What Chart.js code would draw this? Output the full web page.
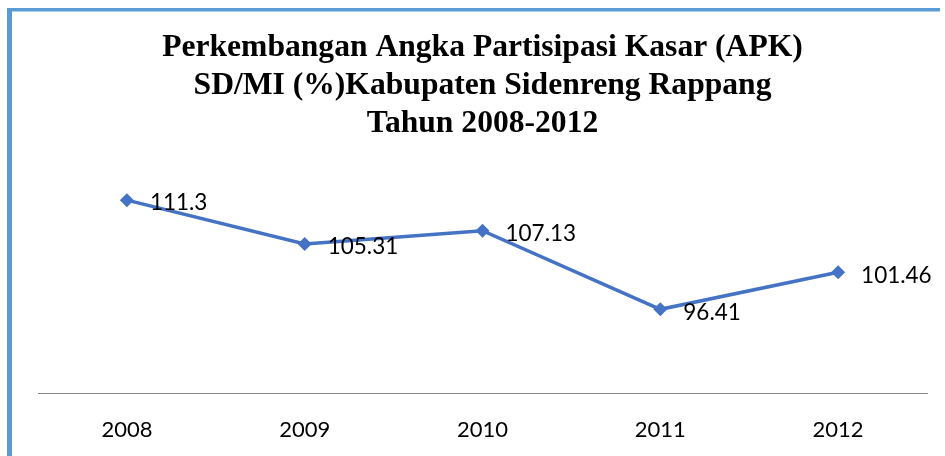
<!DOCTYPE html>
<html>
<head>
<meta charset="utf-8">
<script src="https://cdn.jsdelivr.net/npm/chart.js@4.4.1/dist/chart.umd.min.js"></script>
<style>
  html, body { margin: 0; padding: 0; background: #fff; overflow: hidden; }
  #chartApk { display: block; }
</style>
</head>
<body>
<canvas id="chartApk" width="945" height="456"></canvas>
<script>
// ---------- DATA ----------
const tahun = ["2008", "2009", "2010", "2011", "2012"];
const nilaiApk = [111.3, 105.31, 107.13, 96.41, 101.46];
const labelApk = ["111.3", "105.31", "107.13", "96.41", "101.46"];
const judul = [
  "Perkembangan Angka Partisipasi Kasar (APK)",
  "SD/MI (%)Kabupaten Sidenreng Rappang",
  "Tahun 2008-2012"
];

const BIRU = "#4472c4";
const BINGKAI = "#5b9bd5";
const FONT_LABEL = "Lato, 'Liberation Sans', sans-serif";

// bingkai biru kiri + atas
const bingkai = {
  id: "bingkai",
  beforeDraw(chart) {
    const ctx = chart.ctx;
    ctx.save();
    ctx.fillStyle = "#fff";
    ctx.fillRect(0, 0, chart.width, chart.height);
    ctx.fillStyle = BINGKAI;
    ctx.fillRect(7, 8, 933, 3.5);
    ctx.fillRect(7, 8, 5, chart.height - 8);
    ctx.restore();
  }
};

// label nilai di kanan titik
const labelNilai = {
  id: "labelNilai",
  afterDatasetsDraw(chart) {
    const ctx = chart.ctx;
    const meta = chart.getDatasetMeta(0);
    ctx.save();
    ctx.font = "22.5px " + FONT_LABEL;
    ctx.fillStyle = "#000";
    ctx.textAlign = "left";
    ctx.textBaseline = "middle";
    meta.data.forEach((p, i) => {
      ctx.fillText(labelApk[i], p.x + 23, p.y + 3);
    });
    ctx.restore();
  }
};

new Chart(document.getElementById("chartApk"), {
  type: "line",
  data: {
    labels: tahun,
    datasets: [{
      label: "APK",
      data: nilaiApk,
      borderColor: BIRU,
      backgroundColor: BIRU,
      borderWidth: 3.5,
      tension: 0,
      pointStyle: "rectRot",
      pointRadius: 7,
      pointBorderWidth: 0,
      fill: false
    }]
  },
  options: {
    responsive: false,
    animation: false,
    layout: { padding: { left: 38, right: 18, top: 10, bottom: 0 } },
    plugins: {
      legend: { display: false },
      tooltip: { enabled: false },
      title: {
        display: true,
        text: judul,
        color: "#000",
        font: { family: "'Liberation Serif', 'Times New Roman', serif", size: 31.6, weight: "bold", lineHeight: "38px" },
        padding: { top: 19, bottom: 30 }
      }
    },
    scales: {
      x: {
        offset: true,
        grid: { display: false, drawTicks: false },
        border: { display: true, color: "#888888", width: 1 },
        ticks: { color: "#000", padding: 24, font: { family: FONT_LABEL, size: 22 } },
        afterFit(scale) { scale.height = 63; }
      },
      y: {
        display: false,
        min: 85,
        max: 115
      }
    }
  },
  plugins: [bingkai, labelNilai]
});
</script>
</body>
</html>
